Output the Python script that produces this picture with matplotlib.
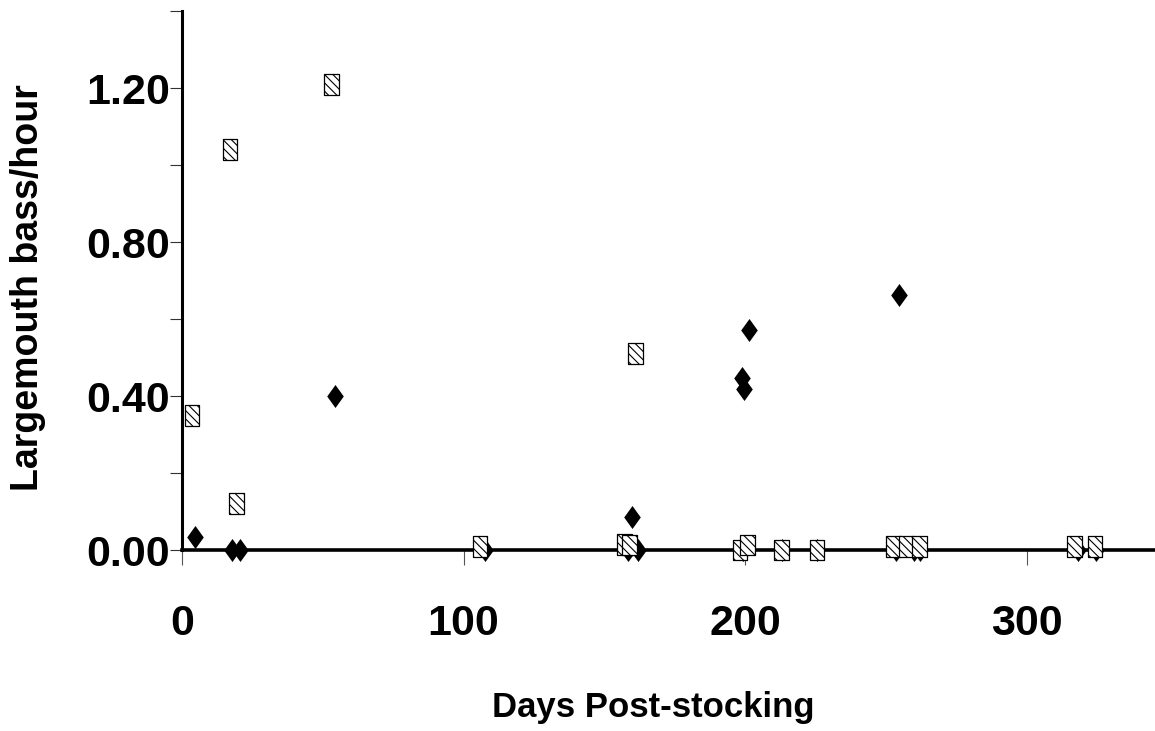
import numpy as np
import matplotlib
matplotlib.use("Agg")
import matplotlib.pyplot as plt
from matplotlib import font_manager
from matplotlib.ticker import FormatStrFormatter

# hatched squares
sq_days = [3.6, 17.1, 19.4, 53.0, 105.9, 157.2, 159.0, 161.1, 198.2, 200.9,
           213.0, 225.6, 252.8, 257.2, 262.0, 317.0, 324.3]
sq_vals = [0.35, 1.04, 0.12, 1.21, 0.01, 0.015, 0.013, 0.51, 0.0, 0.013,
           0.0, 0.0, 0.01, 0.01, 0.01, 0.01, 0.01]

# black diamonds
dia_days = [4.6, 17.8, 20.6, 54.2, 107.6, 158.4, 159.7, 162.0, 198.9, 199.6,
            201.4, 199.3, 213.0, 225.6, 254.7, 253.6, 260.0, 262.2, 318.3, 324.7]
dia_vals = [0.034, 0.0, 0.0, 0.40, 0.0, 0.0, 0.086, 0.0, 0.447, 0.418,
            0.571, 0.0, 0.0, 0.0, 0.662, 0.0, 0.0, 0.0, 0.0, 0.0]

x_ticks = [0, 100, 200, 300]
y_ticks = [0.0, 0.4, 0.8, 1.2]
y_minor = [0.2, 0.6, 1.0, 1.4]

names = {f.name for f in font_manager.fontManager.ttflist}
bold_font = "Liberation Sans" if "Liberation Sans" in names else "DejaVu Sans"
if "Liberation Sans Narrow" in names:
    ytick_font, ytick_size = "Liberation Sans Narrow", 37
else:
    ytick_font, ytick_size = bold_font, 31

plt.rcParams["font.family"] = [bold_font, "DejaVu Sans"]
plt.rcParams["hatch.linewidth"] = 0.8

fig = plt.figure(figsize=(11.55, 7.31), dpi=100)
ax = fig.add_axes([182 / 1155, 181 / 731, 973 / 1155, 539 / 731])

sq_marker = [(-0.7, -1), (0.7, -1), (0.7, 1), (-0.7, 1), (-0.7, -1)]
dia_marker = [(0, -1), (0.72, 0), (0, 1), (-0.72, 0), (0, -1)]

ax.scatter(dia_days, dia_vals, marker=dia_marker, s=275, c="black",
           linewidths=0, zorder=3, clip_on=False)
ax.scatter(sq_days, sq_vals, marker=sq_marker, s=228, facecolor="white",
           edgecolor="black", linewidths=0.9, hatch="\\\\\\\\",
           zorder=4, clip_on=False)

ax.set_xlim(0, 345.6)
ax.set_ylim(0, 1.4)

for side in ["top", "right"]:
    ax.spines[side].set_visible(False)
ax.spines["left"].set_linewidth(2.2)
ax.spines["bottom"].set_linewidth(2.6)

ax.set_xticks(x_ticks)
ax.set_yticks(y_ticks)
ax.set_yticks(y_minor, minor=True)
ax.yaxis.set_major_formatter(FormatStrFormatter("%.2f"))
ax.tick_params(axis="y", which="both", direction="out", length=8.6,
               width=0.8, color="#333333", pad=0)
ax.tick_params(axis="x", direction="out", length=10.8, width=0.8,
               color="#555555", pad=28)

for lab in ax.get_xticklabels():
    lab.set_fontsize(31)
    lab.set_fontweight("bold")
for lab in ax.get_yticklabels():
    lab.set_family(ytick_font)
    lab.set_fontsize(ytick_size)
    lab.set_fontweight("bold")

fig.text(653 / 1155, 1 - 717 / 731, "Days Post-stocking", ha="center",
         va="baseline", fontsize=25, fontweight="bold")
fig.text(28 / 1155, 1 - 288 / 731, "Largemouth bass/hour", ha="center",
         va="center", rotation=90, fontsize=27, fontweight="bold")

fig.savefig("out.png", dpi=100)
